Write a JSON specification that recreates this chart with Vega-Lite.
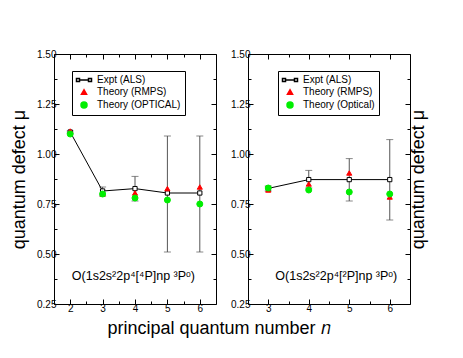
{
  "$schema": "https://vega.github.io/schema/vega-lite/v6.json",
  "padding": {"left": 10, "top": 48, "right": 5, "bottom": 5},
  "background": "white",
  "title": {"text": "principal quantum number  𝑛", "orient": "bottom", "anchor": "middle", "fontSize": 18, "fontWeight": "normal", "font": "Liberation Sans", "color": "black", "offset": 6},
  "spacing": 13,
  "resolve": {
    "scale": {"fill": "independent", "stroke": "independent", "shape": "independent", "size": "independent"},
    "legend": {"fill": "independent", "stroke": "independent", "shape": "independent", "size": "independent"}
  },
  "config": {
    "view": {"stroke": "black", "strokeWidth": 1},
    "axis": {"domain": false, "grid": false, "labelFont": "Liberation Sans", "labelFontSize": 10, "labelColor": "black", "tickColor": "black", "titleFont": "Liberation Sans", "titleFontSize": 18, "titleFontWeight": "normal", "titleColor": "black"},
    "legend": {"labelFont": "Liberation Sans", "labelFontSize": 10, "labelColor": "black"}
  },
  "hconcat": [
    {
      "width": 162, "height": 250,
      "data": {"values": [
        {"n": 2, "series": "Expt (ALS)", "mu": 1.11, "lo": 1.105, "hi": 1.115},
        {"n": 3, "series": "Expt (ALS)", "mu": 0.815, "lo": 0.79, "hi": 0.835},
        {"n": 4, "series": "Expt (ALS)", "mu": 0.827, "lo": 0.765, "hi": 0.888},
        {"n": 5, "series": "Expt (ALS)", "mu": 0.805, "lo": 0.51, "hi": 1.09},
        {"n": 6, "series": "Expt (ALS)", "mu": 0.805, "lo": 0.51, "hi": 1.09},
        {"n": 2, "series": "Theory (RMPS)", "mu": 1.115},
        {"n": 3, "series": "Theory (RMPS)", "mu": 0.80},
        {"n": 4, "series": "Theory (RMPS)", "mu": 0.805},
        {"n": 5, "series": "Theory (RMPS)", "mu": 0.827},
        {"n": 6, "series": "Theory (RMPS)", "mu": 0.835},
        {"n": 2, "series": "Theory (OPTICAL)", "mu": 1.10},
        {"n": 3, "series": "Theory (OPTICAL)", "mu": 0.80},
        {"n": 4, "series": "Theory (OPTICAL)", "mu": 0.78},
        {"n": 5, "series": "Theory (OPTICAL)", "mu": 0.77},
        {"n": 6, "series": "Theory (OPTICAL)", "mu": 0.75}
      ]},
      "resolve": {"axis": {"x": "independent", "y": "independent"}},
      "layer": [
        {
          "transform": [{"filter": "datum.series === 'Expt (ALS)'"}],
          "mark": {"type": "rule", "color": "#555555", "strokeWidth": 1},
          "encoding": {
            "x": {"field": "n", "type": "quantitative", "scale": {"domain": [1.5, 6.5], "nice": false}, "axis": {"orient": "bottom", "values": [2, 3, 4, 5, 6], "tickSize": -5, "labelPadding": 4, "title": null}},
            "y": {"field": "lo", "type": "quantitative", "scale": {"domain": [0.25, 1.5], "nice": false, "zero": false}, "axis": {"orient": "left", "values": [0.25, 0.5, 0.75, 1.0, 1.25, 1.5], "format": ".2f", "tickSize": -5, "labelPadding": 3, "title": "quantum defect  μ", "titlePadding": 8}},
            "y2": {"field": "hi"}
          }
        },
        {
          "transform": [{"filter": "datum.series === 'Expt (ALS)'"}],
          "mark": {"type": "tick", "orient": "horizontal", "color": "#555555", "size": 7, "thickness": 1},
          "encoding": {
            "x": {"field": "n", "type": "quantitative", "scale": {"domain": [1.5, 6.5], "nice": false}, "axis": {"orient": "top", "values": [2, 3, 4, 5, 6], "tickSize": -5, "labels": false, "title": null}},
            "y": {"field": "lo", "type": "quantitative", "scale": {"domain": [0.25, 1.5], "nice": false, "zero": false}, "axis": {"orient": "right", "values": [0.25, 0.5, 0.75, 1.0, 1.25, 1.5], "tickSize": -5, "labels": false, "title": null}}
          }
        },
        {
          "transform": [{"filter": "datum.series === 'Expt (ALS)'"}],
          "mark": {"type": "tick", "orient": "horizontal", "color": "#555555", "size": 7, "thickness": 1},
          "encoding": {
            "x": {"field": "n", "type": "quantitative", "scale": {"domain": [1.5, 6.5], "nice": false}, "axis": {"orient": "bottom", "values": [2.5, 3.5, 4.5, 5.5], "tickSize": -3, "labels": false, "title": null}},
            "y": {"field": "hi", "type": "quantitative", "scale": {"domain": [0.25, 1.5], "nice": false, "zero": false}, "axis": {"orient": "left", "values": [0.375, 0.625, 0.875, 1.125, 1.375], "tickSize": -3, "labels": false, "title": null}}
          }
        },
        {
          "transform": [{"filter": "datum.series === 'Expt (ALS)'"}],
          "mark": {"type": "line", "color": "black", "strokeWidth": 1},
          "encoding": {
            "x": {"field": "n", "type": "quantitative", "scale": {"domain": [1.5, 6.5], "nice": false}, "axis": {"orient": "top", "values": [2.5, 3.5, 4.5, 5.5], "tickSize": -3, "labels": false, "title": null}},
            "y": {"field": "mu", "type": "quantitative", "scale": {"domain": [0.25, 1.5], "nice": false, "zero": false}, "axis": {"orient": "right", "values": [0.375, 0.625, 0.875, 1.125, 1.375], "tickSize": -3, "labels": false, "title": null}}
          }
        },
        {
          "transform": [{"filter": "datum.series === 'Expt (ALS)'"}],
          "mark": {"type": "point", "shape": "square", "filled": true, "fill": "white", "stroke": "black", "strokeWidth": 1, "size": 18, "opacity": 1},
          "encoding": {
            "x": {"field": "n", "type": "quantitative", "scale": {"domain": [1.5, 6.5], "nice": false}, "axis": null},
            "y": {"field": "mu", "type": "quantitative", "scale": {"domain": [0.25, 1.5], "nice": false, "zero": false}, "axis": null}
          }
        },
        {
          "transform": [{"filter": "datum.series !== 'Expt (ALS)'"}],
          "mark": {"type": "point", "filled": false, "strokeWidth": 1, "opacity": 1},
          "encoding": {
            "x": {"field": "n", "type": "quantitative", "scale": {"domain": [1.5, 6.5], "nice": false}, "axis": null},
            "y": {"field": "mu", "type": "quantitative", "scale": {"domain": [0.25, 1.5], "nice": false, "zero": false}, "axis": null},
            "fill": {"field": "series", "type": "nominal", "sort": null, "scale": {"domain": ["Expt (ALS)", "Theory (RMPS)", "Theory (OPTICAL)"], "range": ["white", "#ff0000", "#00ee00"]},
              "legend": {"title": null, "orient": "none", "legendX": 18, "legendY": 17, "strokeColor": "black", "fillColor": "white", "padding": 4, "rowPadding": 1, "symbolOffset": 3, "labelOffset": 8}},
            "stroke": {"field": "series", "type": "nominal", "sort": null, "scale": {"domain": ["Expt (ALS)", "Theory (RMPS)", "Theory (OPTICAL)"], "range": ["black", "#ff0000", "#00ee00"]}},
            "shape": {"field": "series", "type": "nominal", "sort": null, "scale": {"domain": ["Expt (ALS)", "Theory (RMPS)", "Theory (OPTICAL)"], "range": ["M-3.75,-0.75h1.5v1.5h-1.5zM-2.25,0H2.25M2.25,-0.75h1.5v1.5h-1.5z", "triangle-up", "circle"]}},
            "size": {"field": "series", "type": "nominal", "sort": null, "scale": {"domain": ["Expt (ALS)", "Theory (RMPS)", "Theory (OPTICAL)"], "range": [16, 36, 32]}}
          }
        },
        {
          "data": {"values": [{"label": "O(1s2s²2p⁴[⁴P]np ³Pᵒ)"}]},
          "mark": {"type": "text", "font": "Liberation Sans", "fontSize": 12.5, "color": "black"},
          "encoding": {
            "x": {"datum": 3.95, "type": "quantitative", "scale": {"domain": [1.5, 6.5], "nice": false}, "axis": null},
            "y": {"datum": 0.39, "type": "quantitative", "scale": {"domain": [0.25, 1.5], "nice": false, "zero": false}, "axis": null},
            "text": {"field": "label"}
          }
        }
      ]
    },
    {
      "width": 162, "height": 250,
      "data": {"values": [
        {"n": 3, "series": "Expt (ALS)", "mu": 0.828, "lo": 0.815, "hi": 0.84},
        {"n": 4, "series": "Expt (ALS)", "mu": 0.872, "lo": 0.83, "hi": 0.918},
        {"n": 5, "series": "Expt (ALS)", "mu": 0.872, "lo": 0.765, "hi": 0.977},
        {"n": 6, "series": "Expt (ALS)", "mu": 0.872, "lo": 0.67, "hi": 1.072},
        {"n": 3, "series": "Theory (RMPS)", "mu": 0.82},
        {"n": 4, "series": "Theory (RMPS)", "mu": 0.85},
        {"n": 5, "series": "Theory (RMPS)", "mu": 0.905},
        {"n": 6, "series": "Theory (RMPS)", "mu": 0.785},
        {"n": 3, "series": "Theory (Optical)", "mu": 0.83},
        {"n": 4, "series": "Theory (Optical)", "mu": 0.82},
        {"n": 5, "series": "Theory (Optical)", "mu": 0.81},
        {"n": 6, "series": "Theory (Optical)", "mu": 0.80}
      ]},
      "resolve": {"axis": {"x": "independent", "y": "independent"}},
      "layer": [
        {
          "transform": [{"filter": "datum.series === 'Expt (ALS)'"}],
          "mark": {"type": "rule", "color": "#555555", "strokeWidth": 1},
          "encoding": {
            "x": {"field": "n", "type": "quantitative", "scale": {"domain": [2.5, 6.5], "nice": false}, "axis": {"orient": "bottom", "values": [3, 4, 5, 6], "tickSize": -5, "labelPadding": 4, "title": null}},
            "y": {"field": "lo", "type": "quantitative", "scale": {"domain": [0.25, 1.5], "nice": false, "zero": false}, "axis": {"orient": "left", "values": [0.25, 0.5, 0.75, 1.0, 1.25, 1.5], "format": ".2f", "tickSize": -5, "labelPadding": 3, "title": null}},
            "y2": {"field": "hi"}
          }
        },
        {
          "transform": [{"filter": "datum.series === 'Expt (ALS)'"}],
          "mark": {"type": "tick", "orient": "horizontal", "color": "#555555", "size": 7, "thickness": 1},
          "encoding": {
            "x": {"field": "n", "type": "quantitative", "scale": {"domain": [2.5, 6.5], "nice": false}, "axis": {"orient": "top", "values": [3, 4, 5, 6], "tickSize": -5, "labels": false, "title": null}},
            "y": {"field": "lo", "type": "quantitative", "scale": {"domain": [0.25, 1.5], "nice": false, "zero": false}, "axis": {"orient": "right", "values": [0.25, 0.5, 0.75, 1.0, 1.25, 1.5], "tickSize": -5, "labels": false, "title": "quantum defect μ", "titleAngle": 270, "titlePadding": 17}}
          }
        },
        {
          "transform": [{"filter": "datum.series === 'Expt (ALS)'"}],
          "mark": {"type": "tick", "orient": "horizontal", "color": "#555555", "size": 7, "thickness": 1},
          "encoding": {
            "x": {"field": "n", "type": "quantitative", "scale": {"domain": [2.5, 6.5], "nice": false}, "axis": {"orient": "bottom", "values": [3.5, 4.5, 5.5], "tickSize": -3, "labels": false, "title": null}},
            "y": {"field": "hi", "type": "quantitative", "scale": {"domain": [0.25, 1.5], "nice": false, "zero": false}, "axis": {"orient": "left", "values": [0.375, 0.625, 0.875, 1.125, 1.375], "tickSize": -3, "labels": false, "title": null}}
          }
        },
        {
          "transform": [{"filter": "datum.series === 'Expt (ALS)'"}],
          "mark": {"type": "line", "color": "black", "strokeWidth": 1},
          "encoding": {
            "x": {"field": "n", "type": "quantitative", "scale": {"domain": [2.5, 6.5], "nice": false}, "axis": {"orient": "top", "values": [3.5, 4.5, 5.5], "tickSize": -3, "labels": false, "title": null}},
            "y": {"field": "mu", "type": "quantitative", "scale": {"domain": [0.25, 1.5], "nice": false, "zero": false}, "axis": {"orient": "right", "values": [0.375, 0.625, 0.875, 1.125, 1.375], "tickSize": -3, "labels": false, "title": null}}
          }
        },
        {
          "transform": [{"filter": "datum.series === 'Expt (ALS)'"}],
          "mark": {"type": "point", "shape": "square", "filled": true, "fill": "white", "stroke": "black", "strokeWidth": 1, "size": 18, "opacity": 1},
          "encoding": {
            "x": {"field": "n", "type": "quantitative", "scale": {"domain": [2.5, 6.5], "nice": false}, "axis": null},
            "y": {"field": "mu", "type": "quantitative", "scale": {"domain": [0.25, 1.5], "nice": false, "zero": false}, "axis": null}
          }
        },
        {
          "transform": [{"filter": "datum.series !== 'Expt (ALS)'"}],
          "mark": {"type": "point", "filled": false, "strokeWidth": 1, "opacity": 1},
          "encoding": {
            "x": {"field": "n", "type": "quantitative", "scale": {"domain": [2.5, 6.5], "nice": false}, "axis": null},
            "y": {"field": "mu", "type": "quantitative", "scale": {"domain": [0.25, 1.5], "nice": false, "zero": false}, "axis": null},
            "fill": {"field": "series", "type": "nominal", "sort": null, "scale": {"domain": ["Expt (ALS)", "Theory (RMPS)", "Theory (Optical)"], "range": ["white", "#ff0000", "#00ee00"]},
              "legend": {"title": null, "orient": "none", "legendX": 30, "legendY": 17, "strokeColor": "black", "fillColor": "white", "padding": 4, "rowPadding": 1, "symbolOffset": 3, "labelOffset": 8}},
            "stroke": {"field": "series", "type": "nominal", "sort": null, "scale": {"domain": ["Expt (ALS)", "Theory (RMPS)", "Theory (Optical)"], "range": ["black", "#ff0000", "#00ee00"]}},
            "shape": {"field": "series", "type": "nominal", "sort": null, "scale": {"domain": ["Expt (ALS)", "Theory (RMPS)", "Theory (Optical)"], "range": ["M-3.75,-0.75h1.5v1.5h-1.5zM-2.25,0H2.25M2.25,-0.75h1.5v1.5h-1.5z", "triangle-up", "circle"]}},
            "size": {"field": "series", "type": "nominal", "sort": null, "scale": {"domain": ["Expt (ALS)", "Theory (RMPS)", "Theory (Optical)"], "range": [16, 36, 32]}}
          }
        },
        {
          "data": {"values": [{"label": "O(1s2s²2p⁴[²P]np ³Pᵒ)"}]},
          "mark": {"type": "text", "font": "Liberation Sans", "fontSize": 12.5, "color": "black"},
          "encoding": {
            "x": {"datum": 4.68, "type": "quantitative", "scale": {"domain": [2.5, 6.5], "nice": false}, "axis": null},
            "y": {"datum": 0.39, "type": "quantitative", "scale": {"domain": [0.25, 1.5], "nice": false, "zero": false}, "axis": null},
            "text": {"field": "label"}
          }
        }
      ]
    }
  ]
}
